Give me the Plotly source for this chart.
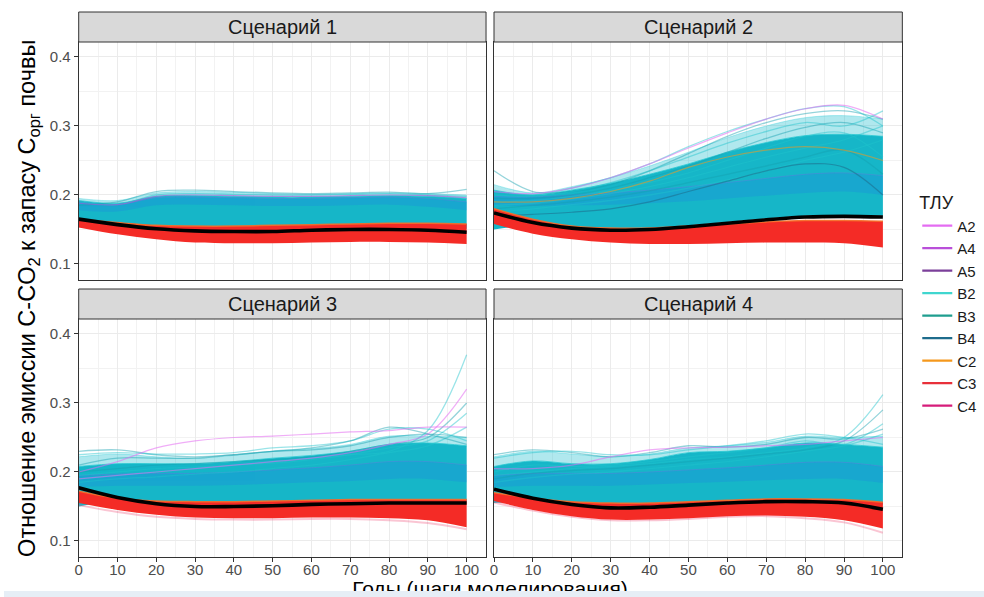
import plotly.graph_objects as go

# ---------------- data ----------------
years = [0, 10, 20, 30, 40, 50, 60, 70, 80, 90, 100]
scenarios = ["Сценарий 1", "Сценарий 2", "Сценарий 3", "Сценарий 4"]
groups = ["A2", "A4", "A5", "B2", "B3", "B4", "C2", "C3", "C4"]
group_colors = ["#E46CF2", "#B94FD9", "#7B3F9A", "#3FD6CF", "#1F9E8F",
                "#1E6C8C", "#F5981C", "#E8303A", "#D61C7A"]

# black mean line per scenario
mean_ratio = [
    [0.165, 0.157, 0.151, 0.148, 0.147, 0.147, 0.149, 0.150, 0.150, 0.149, 0.146],
    [0.174, 0.160, 0.152, 0.149, 0.150, 0.154, 0.159, 0.164, 0.168, 0.169, 0.168],
    [0.177, 0.163, 0.154, 0.150, 0.150, 0.151, 0.153, 0.154, 0.155, 0.155, 0.155],
    [0.175, 0.162, 0.153, 0.148, 0.149, 0.152, 0.155, 0.157, 0.157, 0.155, 0.146],
]
# outer (sparser) cyan envelope
halo_hi = [
    [0.195, 0.192, 0.203, 0.205, 0.204, 0.202, 0.201, 0.202, 0.203, 0.202, 0.200],
    [0.215, 0.203, 0.212, 0.225, 0.242, 0.262, 0.283, 0.300, 0.312, 0.315, 0.310],
    [0.222, 0.226, 0.222, 0.220, 0.224, 0.230, 0.234, 0.240, 0.252, 0.252, 0.250],
    [0.222, 0.230, 0.226, 0.222, 0.226, 0.235, 0.238, 0.243, 0.252, 0.250, 0.252],
]
# dense cyan (B group) envelope
cyan_hi = [
    [0.192, 0.188, 0.198, 0.199, 0.198, 0.197, 0.197, 0.198, 0.199, 0.198, 0.195],
    [0.207, 0.200, 0.207, 0.217, 0.230, 0.245, 0.262, 0.276, 0.286, 0.288, 0.285],
    [0.208, 0.212, 0.212, 0.212, 0.215, 0.220, 0.224, 0.230, 0.240, 0.242, 0.238],
    [0.208, 0.216, 0.212, 0.212, 0.218, 0.228, 0.230, 0.235, 0.242, 0.240, 0.236],
]
cyan_lo = [
    [0.156, 0.158, 0.155, 0.153, 0.152, 0.153, 0.154, 0.155, 0.155, 0.154, 0.151],
    [0.150, 0.156, 0.153, 0.151, 0.152, 0.156, 0.161, 0.166, 0.170, 0.171, 0.170],
    [0.150, 0.158, 0.156, 0.155, 0.155, 0.156, 0.157, 0.158, 0.159, 0.158, 0.157],
    [0.155, 0.158, 0.155, 0.152, 0.152, 0.154, 0.157, 0.159, 0.160, 0.158, 0.152],
]
# darker blue (B4) streak inside the cyan mass
blue_hi = [
    [0.190, 0.186, 0.196, 0.197, 0.196, 0.195, 0.195, 0.196, 0.197, 0.195, 0.190],
    [0.198, 0.197, 0.200, 0.203, 0.207, 0.212, 0.218, 0.224, 0.230, 0.232, 0.228],
    [0.195, 0.197, 0.198, 0.198, 0.200, 0.203, 0.206, 0.210, 0.215, 0.215, 0.210],
    [0.195, 0.198, 0.198, 0.198, 0.200, 0.203, 0.206, 0.210, 0.214, 0.214, 0.208],
]
blue_lo = [
    [0.178, 0.176, 0.185, 0.186, 0.185, 0.184, 0.184, 0.185, 0.186, 0.183, 0.178],
    [0.185, 0.184, 0.185, 0.186, 0.188, 0.191, 0.195, 0.199, 0.203, 0.205, 0.200],
    [0.178, 0.180, 0.180, 0.180, 0.181, 0.183, 0.185, 0.187, 0.190, 0.190, 0.185],
    [0.178, 0.180, 0.180, 0.180, 0.182, 0.184, 0.186, 0.188, 0.190, 0.190, 0.184],
]
# dense red (C group) envelope
red_hi = [
    [0.165, 0.160, 0.156, 0.155, 0.155, 0.156, 0.157, 0.158, 0.159, 0.159, 0.158],
    [0.180, 0.165, 0.155, 0.152, 0.152, 0.155, 0.158, 0.161, 0.163, 0.163, 0.162],
    [0.172, 0.162, 0.158, 0.157, 0.157, 0.158, 0.159, 0.160, 0.160, 0.160, 0.160],
    [0.170, 0.162, 0.157, 0.155, 0.155, 0.157, 0.159, 0.161, 0.161, 0.160, 0.156],
]
red_lo = [
    [0.153, 0.143, 0.136, 0.131, 0.130, 0.130, 0.131, 0.132, 0.132, 0.131, 0.129],
    [0.158, 0.144, 0.136, 0.131, 0.129, 0.129, 0.130, 0.131, 0.131, 0.130, 0.124],
    [0.155, 0.145, 0.138, 0.134, 0.133, 0.133, 0.134, 0.134, 0.133, 0.130, 0.120],
    [0.158, 0.145, 0.136, 0.131, 0.131, 0.133, 0.136, 0.137, 0.135, 0.130, 0.118],
]
# faint C4 lines under the red mass
pink_low = [
    None,
    None,
    [0.152, 0.142, 0.135, 0.132, 0.131, 0.131, 0.132, 0.132, 0.130, 0.126, 0.117],
    [0.156, 0.144, 0.135, 0.130, 0.130, 0.132, 0.135, 0.136, 0.133, 0.127, 0.112],
]
# individual light cyan lines above the mass
spread_s1 = [
    [0.185, 0.190, 0.205, 0.207, 0.205, 0.203, 0.202, 0.203, 0.204, 0.202, 0.208],
    [0.190, 0.186, 0.200, 0.202, 0.201, 0.200, 0.200, 0.201, 0.202, 0.200, 0.198],
]
spread_s2 = [
    [0.235, 0.205, 0.205, 0.215, 0.235, 0.260, 0.285, 0.305, 0.318, 0.322, 0.310],
    [0.205, 0.200, 0.210, 0.225, 0.245, 0.270, 0.292, 0.310, 0.325, 0.328, 0.300],
    [0.200, 0.198, 0.205, 0.218, 0.235, 0.255, 0.275, 0.292, 0.305, 0.300, 0.322],
    [0.195, 0.195, 0.200, 0.210, 0.225, 0.242, 0.262, 0.282, 0.298, 0.305, 0.290],
    [0.190, 0.192, 0.198, 0.206, 0.218, 0.232, 0.250, 0.268, 0.285, 0.290, 0.255],
    [0.185, 0.188, 0.194, 0.202, 0.212, 0.225, 0.240, 0.255, 0.268, 0.280, 0.300],
    [0.180, 0.185, 0.190, 0.197, 0.206, 0.218, 0.230, 0.242, 0.255, 0.265, 0.230],
    [0.175, 0.180, 0.186, 0.192, 0.200, 0.210, 0.222, 0.235, 0.250, 0.262, 0.280],
]
spread_s3 = [
    [0.230, 0.232, 0.225, 0.222, 0.225, 0.230, 0.232, 0.238, 0.250, 0.255, 0.250],
    [0.225, 0.228, 0.226, 0.226, 0.228, 0.235, 0.238, 0.245, 0.262, 0.262, 0.245],
    [0.190, 0.195, 0.200, 0.205, 0.210, 0.215, 0.220, 0.225, 0.230, 0.260, 0.370],
    [0.200, 0.205, 0.210, 0.212, 0.215, 0.218, 0.222, 0.230, 0.240, 0.250, 0.300],
    [0.195, 0.200, 0.205, 0.207, 0.210, 0.213, 0.218, 0.225, 0.235, 0.245, 0.285],
    [0.185, 0.190, 0.193, 0.197, 0.200, 0.205, 0.210, 0.218, 0.228, 0.238, 0.265],
    [0.210, 0.220, 0.220, 0.220, 0.225, 0.230, 0.235, 0.245, 0.265, 0.255, 0.240],
]
spread_s4 = [
    [0.225, 0.232, 0.228, 0.222, 0.228, 0.238, 0.236, 0.240, 0.250, 0.248, 0.262],
    [0.220, 0.228, 0.230, 0.225, 0.225, 0.232, 0.238, 0.245, 0.255, 0.250, 0.240],
    [0.195, 0.200, 0.205, 0.208, 0.212, 0.218, 0.222, 0.228, 0.235, 0.250, 0.312],
    [0.190, 0.198, 0.202, 0.205, 0.210, 0.215, 0.220, 0.226, 0.232, 0.245, 0.290],
    [0.200, 0.210, 0.208, 0.210, 0.215, 0.222, 0.228, 0.235, 0.245, 0.240, 0.270],
    [0.185, 0.192, 0.197, 0.200, 0.205, 0.210, 0.215, 0.222, 0.230, 0.238, 0.255],
]
spread_lines = [spread_s1, spread_s2, spread_s3, spread_s4]
# coloured accent lines: (group, values)
accent_s1 = [("A4", [0.188, 0.186, 0.198, 0.200, 0.199, 0.198, 0.198, 0.199, 0.200, 0.199, 0.196])]
accent_s2 = [
    ("A2", [0.205, 0.202, 0.210, 0.225, 0.245, 0.268, 0.290, 0.310, 0.325, 0.330, 0.310]),
    ("C2", [0.190, 0.190, 0.195, 0.205, 0.220, 0.240, 0.255, 0.265, 0.270, 0.265, 0.250]),
    ("B4", [0.170, 0.172, 0.175, 0.180, 0.190, 0.205, 0.220, 0.235, 0.245, 0.240, 0.200]),
]
accent_s3 = [
    ("A2", [0.200, 0.215, 0.235, 0.245, 0.250, 0.252, 0.255, 0.258, 0.260, 0.265, 0.265]),
    ("A2", [0.190, 0.195, 0.200, 0.205, 0.210, 0.215, 0.220, 0.228, 0.240, 0.255, 0.320]),
]
accent_s4 = [
    ("A2", [0.205, 0.205, 0.210, 0.222, 0.232, 0.235, 0.236, 0.238, 0.240, 0.245, 0.250]),
]
accent_lines = [accent_s1, accent_s2, accent_s3, accent_s4]

x_title = "Годы (шаги моделирования)"
y_title = "Отношение эмиссии C-CO<sub>2</sub> к запасу C<sub>орг</sub> почвы"
legend_title = "ТЛУ"

# ---------------- layout geometry ----------------
W, H = 984, 597
FONT = "Liberation Sans, Arial, sans-serif"


def px(v):
    return v / W


def py(v):
    return 1 - v / H


col_x = [(75, 484), (492, 902)]
row_plot = [(42, 280), (319, 557)]
row_strip = [(12, 42), (289, 319)]
color_of = dict(zip(groups, group_colors))

fig = go.Figure()
layout_axes = {}
shapes = []
annotations = []
spl = dict(shape="spline", smoothing=1.0)

for i in range(4):
    r, c = divmod(i, 2)
    sfx = "" if i == 0 else str(i + 1)
    xa, ya = "x" + sfx, "y" + sfx

    def band(lo, hi, fillcolor, edge, ew=0.8):
        fig.add_trace(go.Scatter(x=years, y=lo, mode="lines", xaxis=xa, yaxis=ya,
                                 line=dict(width=0, **spl), showlegend=False, hoverinfo="skip"))
        fig.add_trace(go.Scatter(x=years, y=hi, mode="lines", xaxis=xa, yaxis=ya,
                                 fill="tonexty", fillcolor=fillcolor,
                                 line=dict(width=ew, color=edge, **spl),
                                 showlegend=False, hoverinfo="skip"))

    # sparse outer cyan zone, then dense cyan mass
    band(cyan_hi[i], halo_hi[i], "rgba(30,190,205,0.35)", "rgba(60,210,220,0.5)", 0.8)
    band(cyan_lo[i], cyan_hi[i], "#16B6C8", "rgba(40,200,210,0.8)", 1.0)
    # blue streak
    band(blue_lo[i], blue_hi[i], "rgba(30,140,220,0.35)", "rgba(120,110,230,0.45)", 0.8)
    # spread lines
    for k, vals in enumerate(spread_lines[i]):
        colr = "rgba(30,195,205,0.45)" if k % 3 else "rgba(20,160,175,0.45)"
        fig.add_trace(go.Scatter(x=years, y=vals, mode="lines", xaxis=xa, yaxis=ya,
                                 line=dict(width=1.3, color=colr, **spl),
                                 showlegend=False, hoverinfo="skip"))
    for g, vals in accent_lines[i]:
        fig.add_trace(go.Scatter(x=years, y=vals, mode="lines", xaxis=xa, yaxis=ya,
                                 line=dict(width=1.2, color=color_of[g], **spl), opacity=0.55,
                                 showlegend=False, hoverinfo="skip"))
    # red mass
    if pink_low[i] is not None:
        fig.add_trace(go.Scatter(x=years, y=pink_low[i], mode="lines", xaxis=xa, yaxis=ya,
                                 line=dict(width=2, color="rgba(240,90,130,0.35)", **spl),
                                 showlegend=False, hoverinfo="skip"))
    band(red_lo[i], red_hi[i], "#F42B26", "rgba(245,110,40,0.9)", 1.5)
    # mean
    fig.add_trace(go.Scatter(x=years, y=mean_ratio[i], mode="lines", xaxis=xa, yaxis=ya,
                             line=dict(width=3.6, color="#000000", **spl),
                             showlegend=False, hoverinfo="skip"))

    bottom = r == 1
    left = c == 0
    grid = dict(showgrid=True, gridcolor="#EBEBEB", gridwidth=1, zeroline=False,
                showline=True, mirror=True, linecolor="#333333", linewidth=1,
                tickfont=dict(size=15, color="#4D4D4D", family=FONT),
                ticklen=4, tickcolor="#333333", fixedrange=True)
    layout_axes["xaxis" + sfx] = dict(
        domain=[px(col_x[c][0]), px(col_x[c][1])], anchor=ya, range=[0, 105],
        tick0=0, dtick=10, ticks="outside" if bottom else "", showticklabels=bottom,
        ticklabelstandoff=-5,
        minor=dict(dtick=5, tick0=0, showgrid=True, gridcolor="#F2F2F2", gridwidth=1),
        **grid)
    layout_axes["yaxis" + sfx] = dict(
        domain=[py(row_plot[r][1]), py(row_plot[r][0])], anchor=xa, range=[0.0768, 0.4217],
        tickvals=[0.1, 0.2, 0.3, 0.4], ticktext=["0.1", "0.2", "0.3", "0.4"],
        ticks="outside" if left else "", showticklabels=left,
        minor=dict(tickvals=[0.15, 0.25, 0.35], showgrid=True, gridcolor="#F2F2F2", gridwidth=1),
        **grid)

    # strip
    shapes.append(dict(type="rect", xref="paper", yref="paper",
                       x0=px(col_x[c][0]), x1=px(col_x[c][1]),
                       y0=py(row_strip[r][1]), y1=py(row_strip[r][0]),
                       fillcolor="#D9D9D9", line=dict(color="#333333", width=1), layer="above"))
    annotations.append(dict(text=scenarios[i], xref="paper", yref="paper",
                            x=px((col_x[c][0] + col_x[c][1]) / 2),
                            y=py((row_strip[r][0] + row_strip[r][1]) / 2),
                            showarrow=False, xanchor="center", yanchor="middle",
                            font=dict(size=20, color="#1A1A1A", family=FONT)))

# legend entries
for g, colr in zip(groups, group_colors):
    fig.add_trace(go.Scatter(x=[None], y=[None], mode="lines", name=g,
                             line=dict(color=colr, width=2.2), xaxis="x", yaxis="y",
                             showlegend=True))

# x-axis title as a text trace in an invisible overlay subplot (so the bottom band can cover it)
layout_axes["xaxis5"] = dict(domain=[0, 1], anchor="y5", range=[0, 1], visible=False, fixedrange=True)
layout_axes["yaxis5"] = dict(domain=[0, 1], anchor="x5", range=[0, 1], visible=False, fixedrange=True)
fig.add_trace(go.Scatter(x=[px(488)], y=[py(591)], mode="text", text=[x_title],
                         textposition="middle center", xaxis="x5", yaxis="y5",
                         textfont=dict(size=21, color="#000000", family=FONT),
                         cliponaxis=False, showlegend=False, hoverinfo="skip"))

# y-axis title
annotations.append(dict(text=y_title, xref="paper", yref="paper", x=px(24), y=py(298),
                        textangle=-90, showarrow=False, xanchor="center", yanchor="middle",
                        font=dict(size=23.5, color="#000000", family=FONT)))

# light band at the very bottom of the reference screenshot
shapes.append(dict(type="rect", xref="paper", yref="paper", x0=0, x1=1, y0=0, y1=py(591),
                   fillcolor="#E6EEF6", line=dict(width=0), layer="above"))

fig.update_layout(
    width=W, height=H, margin=dict(l=0, r=0, t=0, b=0),
    paper_bgcolor="white", plot_bgcolor="rgba(0,0,0,0)",
    font=dict(family=FONT),
    shapes=shapes, annotations=annotations,
    legend=dict(x=px(917), y=py(186), xanchor="left", yanchor="top",
                title=dict(text=legend_title, font=dict(size=18, color="#1A1A1A", family=FONT)),
                font=dict(size=15, color="#1A1A1A", family=FONT), traceorder="normal",
                bgcolor="rgba(0,0,0,0)", tracegroupgap=0, itemwidth=30),
    **layout_axes,
)

fig.write_html("out.html", config={"displayModeBar": False},
               post_script="document.body.style.margin='0px';")
